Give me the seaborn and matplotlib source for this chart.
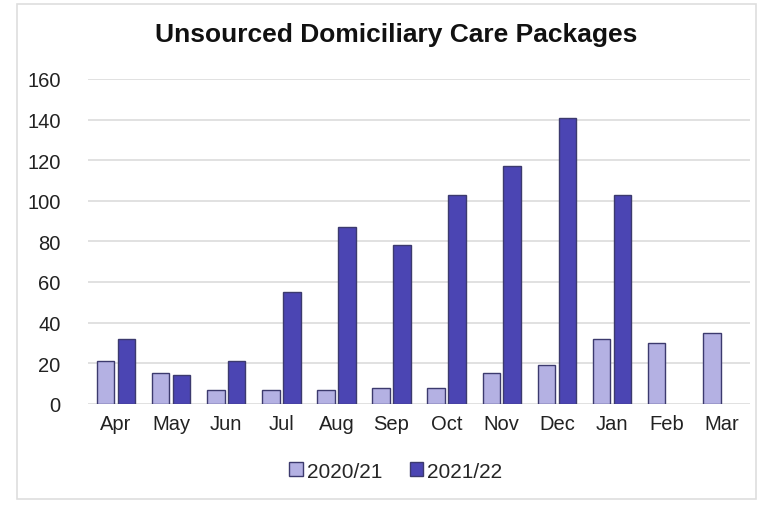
import numpy as np
import pandas as pd
import matplotlib.pyplot as plt
import seaborn as sns
from matplotlib.patches import Rectangle

# Data
months = ['Apr', 'May', 'Jun', 'Jul', 'Aug', 'Sep', 'Oct', 'Nov', 'Dec', 'Jan', 'Feb', 'Mar']
packages_2020 = [21, 15, 7, 7, 7, 8, 8, 15, 19, 32, 30, 35]
packages_2021 = [32, 14, 21, 55, 87, 78, 103, 117, 141, 103, np.nan, np.nan]
series_names = ['2020/21', '2021/22']

# Long format for seaborn
df = pd.DataFrame({
    'Month': months * 2,
    'Packages': packages_2020 + packages_2021,
    'Year': [series_names[0]] * 12 + [series_names[1]] * 12,
})

sns.set_style('white')
plt.rcParams['font.family'] = ['Liberation Sans', 'DejaVu Sans']

fig = plt.figure(figsize=(7.62, 5.06), dpi=100)
ax = fig.add_axes([0.116, 0.2, 0.868, 0.642])

palette = {'2020/21': '#b4b1e3', '2021/22': '#4b45b3'}
sns.barplot(data=df, x='Month', y='Packages', hue='Year', order=months,
            hue_order=series_names, palette=palette, width=0.76, gap=0.16,
            edgecolor='#3c3a6e', linewidth=1.0, saturation=1, ax=ax)

# Axes styling
ax.set_ylim(0, 160)
ax.set_yticks(range(0, 161, 20))
ax.yaxis.grid(True, color='#dcdcdc', linewidth=1.2)
ax.set_axisbelow(True)
for s in ax.spines.values():
    s.set_visible(False)
ax.set_xlabel('')
ax.set_ylabel('')
ax.tick_params(axis='both', labelsize=14.5, colors='#222222', length=0)
ax.tick_params(axis='x', pad=7)
ax.tick_params(axis='y', pad=20)

fig.suptitle('Unsourced Domiciliary Care Packages', x=0.52, y=0.955,
             fontsize=19, fontweight='bold', color='#111111')

leg = ax.legend(loc='upper center', bbox_to_anchor=(0.465, -0.12), ncol=2,
                frameon=False, fontsize=15, handlelength=0.65,
                handleheight=0.65, handletextpad=0.2, columnspacing=1.3)

# Faint border around the whole chart
fig.patches.append(Rectangle((0.022, 0.012), 0.97, 0.978, transform=fig.transFigure,
                             fill=False, edgecolor='#dedede', linewidth=1.2))

plt.savefig('out.png', dpi=100)
